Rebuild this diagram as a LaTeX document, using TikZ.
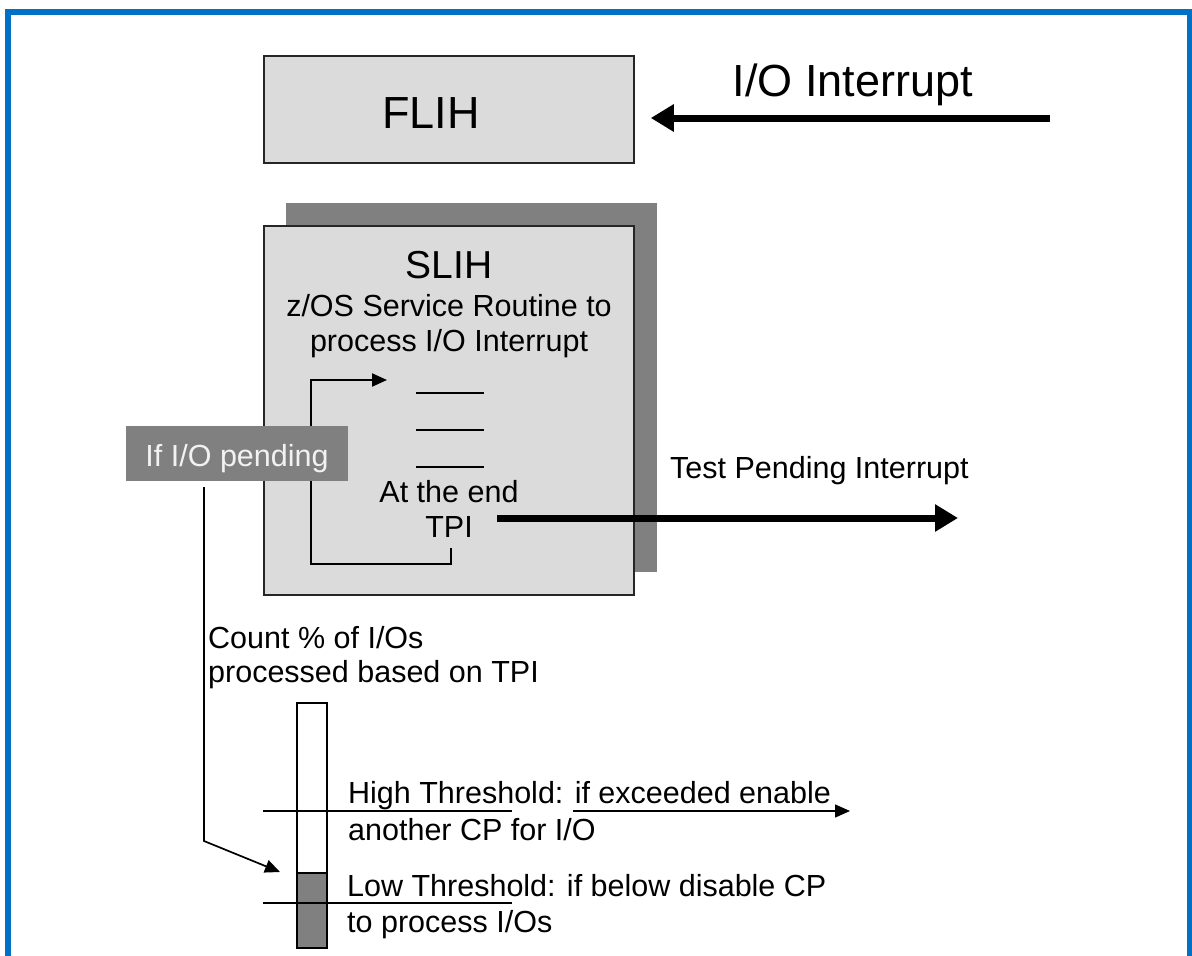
\documentclass[tikz,border=0pt]{standalone}
\usepackage{fontspec}
\setmainfont{Liberation Sans}
\usetikzlibrary{arrows.meta}
\definecolor{frameblue}{HTML}{0072C6}
\definecolor{boxgray}{HTML}{DBDBDB}
\definecolor{midgray}{HTML}{808080}
\definecolor{paletext}{HTML}{F2F2F2}
\begin{document}
\begin{tikzpicture}[x=1bp,y=-1bp,
  txt/.style={font=\fontsize{30.5bp}{36bp}\selectfont, inner sep=0pt, text=black},
  big/.style={font=\fontsize{45bp}{54bp}\selectfont, inner sep=0pt, text=black},
  box/.style={draw=black!85, line width=1.5bp, fill=boxgray, inner sep=0pt},
  bigarrow/.style={line width=7bp, -{Triangle[length=23bp,width=26bp]}},
  thinarrow/.style={line width=1.8bp, -{Triangle[length=15bp,width=13bp]}},
  thinline/.style={line width=1.5bp},
  dashline/.style={line width=2.6bp}]
\useasboundingbox (0,0) rectangle (1192,956);
\clip (0,0) rectangle (1192,956);
\fill[white] (0,0) rectangle (1192,956);
% frame
\draw[frameblue, line width=6bp] (8,1000) -- (8,12) -- (1189.5,12) -- (1189.5,1000);

% FLIH
\node[box, minimum width=370bp, minimum height=107bp] (flih) at (449,109.5) {};
\node[big, anchor=base] (flihT) at (431,128) {FLIH};
\node[big, anchor=base] (ioT) at (853,96) {I/O Interrupt};
\coordinate (iosrc) at (1050,118);
\draw[bigarrow] (iosrc) -- ([xshift=16bp]flih.east |- iosrc);

% SLIH
\node[fill=midgray, minimum width=371bp, minimum height=369bp, inner sep=0pt] (shadow) at (471.5,387.5) {};
\node[box, minimum width=370bp, minimum height=369bp] (slih) at (449,410.5) {};
\node[txt, font=\fontsize{39bp}{45bp}\selectfont, anchor=base] (slihT) at (449,278) {SLIH};
\node[txt, anchor=base] (z1) at (449,316) {z/OS Service Routine to};
\node[txt, anchor=base] (z2) at (449,351) {process I/O Interrupt};
\draw[dashline] (416,393) -- (484,393);
\draw[dashline] (416,430) -- (484,430);
\draw[dashline] (416,467) -- (484,467);
\node[txt, anchor=base] (atend) at (449,502) {At the end};
\node[txt, anchor=base] (tpi) at (449,537) {TPI};

% loop
\coordinate (lpA) at (451,548);
\coordinate (lpB) at (451,564);
\coordinate (lpC) at (311,564);
\coordinate (lpD) at (311,380);
\coordinate (lpE) at (387,380);
\draw[thinarrow, line width=2.2bp] (lpA) -- (lpB) -- (lpC) -- (lpD) -- (lpE);

% TPI arrow
\coordinate (tpiout) at (497,518);
\coordinate (tpitip) at (958,518);
\draw[bigarrow] (tpiout) -- (tpitip);
\node[txt, anchor=base west] (tpT) at (670,478) {Test Pending Interrupt};

% pending
\node[fill=midgray, minimum width=222bp, minimum height=55bp, inner sep=0pt] (pend) at (237,453.5) {};
\node[txt, text=paletext, anchor=base] (pendT) at (237,466) {If I/O pending};

% count text
\node[txt, anchor=base west] (c1) at (208,648) {Count \% of I/Os};
\node[txt, anchor=base west] (c2) at (208,682) {processed based on TPI};

% bar
\node[draw, line width=1.5bp, fill=white, minimum width=30bp, minimum height=245bp, inner sep=0pt] (bar) at (312,825.5) {};
\node[draw, line width=1.5bp, fill=midgray, minimum width=30bp, minimum height=75bp, inner sep=0pt] (barlow) at (312,910.5) {};

% vertical connector
\coordinate (vA) at (204,487);
\coordinate (vB) at (204,841);
\coordinate (vC) at (280,872);
\draw[thinarrow, line width=1.7bp] (vA) -- (vB) -- (vC);

% thresholds
\coordinate (hA) at (263,811);
\coordinate (hB) at (512,811);
\coordinate (hC) at (573,811);
\coordinate (hD) at (850,811);
\draw[thinline] (hA) -- (hB);
\draw[thinarrow, line width=1.5bp] (hC) -- (hD);
\coordinate (lA) at (263,903);
\coordinate (lB) at (512,903);
\draw[thinline] (lA) -- (lB);

\node[txt, anchor=base west] (h1) at (348,803) {High Threshold: if exceeded enable};
\node[txt, anchor=base west] (h2) at (348,840) {another CP for I/O};
\node[txt, anchor=base west] (l1) at (347,896) {Low Threshold: if below disable CP};
\node[txt, anchor=base west] (l2) at (347,932) {to process I/Os};
\end{tikzpicture}
\end{document}
